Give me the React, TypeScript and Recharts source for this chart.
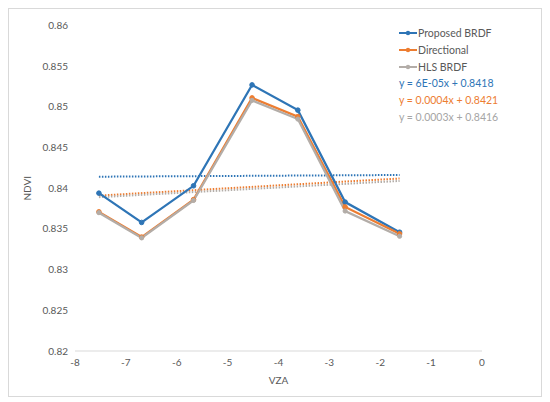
import React from 'react';
import { LineChart, Line, XAxis, YAxis } from 'recharts';

const vza = [-7.53, -6.69, -5.67, -4.52, -3.62, -2.69, -1.62];
const proposedBRDF = [0.8394, 0.8358, 0.8403, 0.8527, 0.8496, 0.8383, 0.8346];
const directional = [0.8371, 0.834, 0.8386, 0.8511, 0.8488, 0.8377, 0.8344];
const hlsBRDF = [0.8370, 0.8339, 0.8385, 0.8508, 0.8485, 0.8372, 0.8341];

const trendX = [-7.53, -1.62];
const trendProposed = [0.84142, 0.84163];
const trendDirectional = [0.8391, 0.8412];
const trendHls = [0.8389, 0.8409];

const xTicks = [-8, -7, -6, -5, -4, -3, -2, -1, 0];
const yTicks = [0.82, 0.825, 0.83, 0.835, 0.84, 0.845, 0.85, 0.855, 0.86];

const seriesNames = ['Proposed BRDF', 'Directional', 'HLS BRDF'];
const equations = ['y = 6E-05x + 0.8418', 'y = 0.0004x + 0.8421', 'y = 0.0003x + 0.8416'];

const BLUE = '#2E75B6';
const ORANGE = '#ED7D31';
const GREY = '#B3ADA8';
const colors = [BLUE, ORANGE, GREY];
const eqColors = [BLUE, ORANGE, '#A5A5A5'];

const FONT = 'Lato, "Open Sans", sans-serif';

const rows = vza.map((x, i) => ({ x, p: proposedBRDF[i], d: directional[i], h: hlsBRDF[i] }));
const trendRows = (vals: number[]) => trendX.map((x, i) => ({ x, v: vals[i] }));

const LegendBox = () => (
  <div style={{ position: 'absolute', left: 390, top: 15, width: 140, fontFamily: FONT, fontSize: 10.5 }}>
    {seriesNames.map((n, i) => (
      <div key={n} style={{ display: 'flex', alignItems: 'center', height: 17, color: '#595959' }}>
        <svg width={18} height={8} style={{ marginRight: 1 }}>
          <line x1={0} y1={4} x2={18} y2={4} stroke={colors[i]} strokeWidth={2} />
          <circle cx={9} cy={4} r={2.2} fill={colors[i]} />
        </svg>
        <span>{n}</span>
      </div>
    ))}
    {equations.map((e, i) => (
      <div key={e} style={{ height: 17, lineHeight: '17px', color: eqColors[i] }}>{e}</div>
    ))}
  </div>
);

export default function App() {
  return (
    <div style={{ position: 'relative', width: 532, height: 387, border: '1px solid #D9D9D9', background: '#fff' }}>
      <LineChart width={532} height={387} data={rows} margin={{ top: 16.5, right: 59, bottom: 15, left: 0 }}>
        <XAxis
          type="number"
          dataKey="x"
          domain={[-8, 0]}
          ticks={xTicks}
          tickLine={false}
          tickSize={0}
          tickMargin={8}
          axisLine={{ stroke: '#D9D9D9', strokeWidth: 1 }}
          tick={{ fill: '#595959', fontSize: 10, fontFamily: FONT }}
          height={30}
          label={{ value: 'VZA', position: 'insideBottom', offset: -3, fill: '#595959', fontSize: 10, fontFamily: FONT }}
        />
        <YAxis
          type="number"
          domain={[0.82, 0.86]}
          ticks={yTicks}
          tickLine={false}
          axisLine={false}
          tickSize={0}
          tickMargin={7}
          width={66}
          tick={{ fill: '#595959', fontSize: 10, fontFamily: FONT }}
          label={{ value: 'NDVI', angle: -90, position: 'insideLeft', offset: 18, textAnchor: 'middle', fill: '#595959', fontSize: 10, fontFamily: FONT }}
        />
        <Line dataKey="v" data={trendRows(trendProposed)} stroke={BLUE} strokeWidth={2} strokeDasharray="1.5 1.5" dot={false} isAnimationActive={false} legendType="none" />
        <Line dataKey="v" data={trendRows(trendDirectional)} stroke={ORANGE} strokeWidth={2} strokeDasharray="1.5 1.5" dot={false} isAnimationActive={false} legendType="none" />
        <Line dataKey="v" data={trendRows(trendHls)} stroke={GREY} strokeWidth={2} strokeDasharray="1.5 1.5" dot={false} isAnimationActive={false} legendType="none" />
        <Line dataKey="p" name="Proposed BRDF" stroke={BLUE} strokeWidth={2.25} dot={{ r: 2.3, fill: BLUE, stroke: BLUE, strokeWidth: 1 }} isAnimationActive={false} />
        <Line dataKey="d" name="Directional" stroke={ORANGE} strokeWidth={2.25} dot={{ r: 2.3, fill: ORANGE, stroke: ORANGE, strokeWidth: 1 }} isAnimationActive={false} />
        <Line dataKey="h" name="HLS BRDF" stroke={GREY} strokeWidth={2.25} dot={{ r: 2.1, fill: GREY, stroke: GREY, strokeWidth: 1 }} isAnimationActive={false} />
      </LineChart>
      <LegendBox />
    </div>
  );
}
